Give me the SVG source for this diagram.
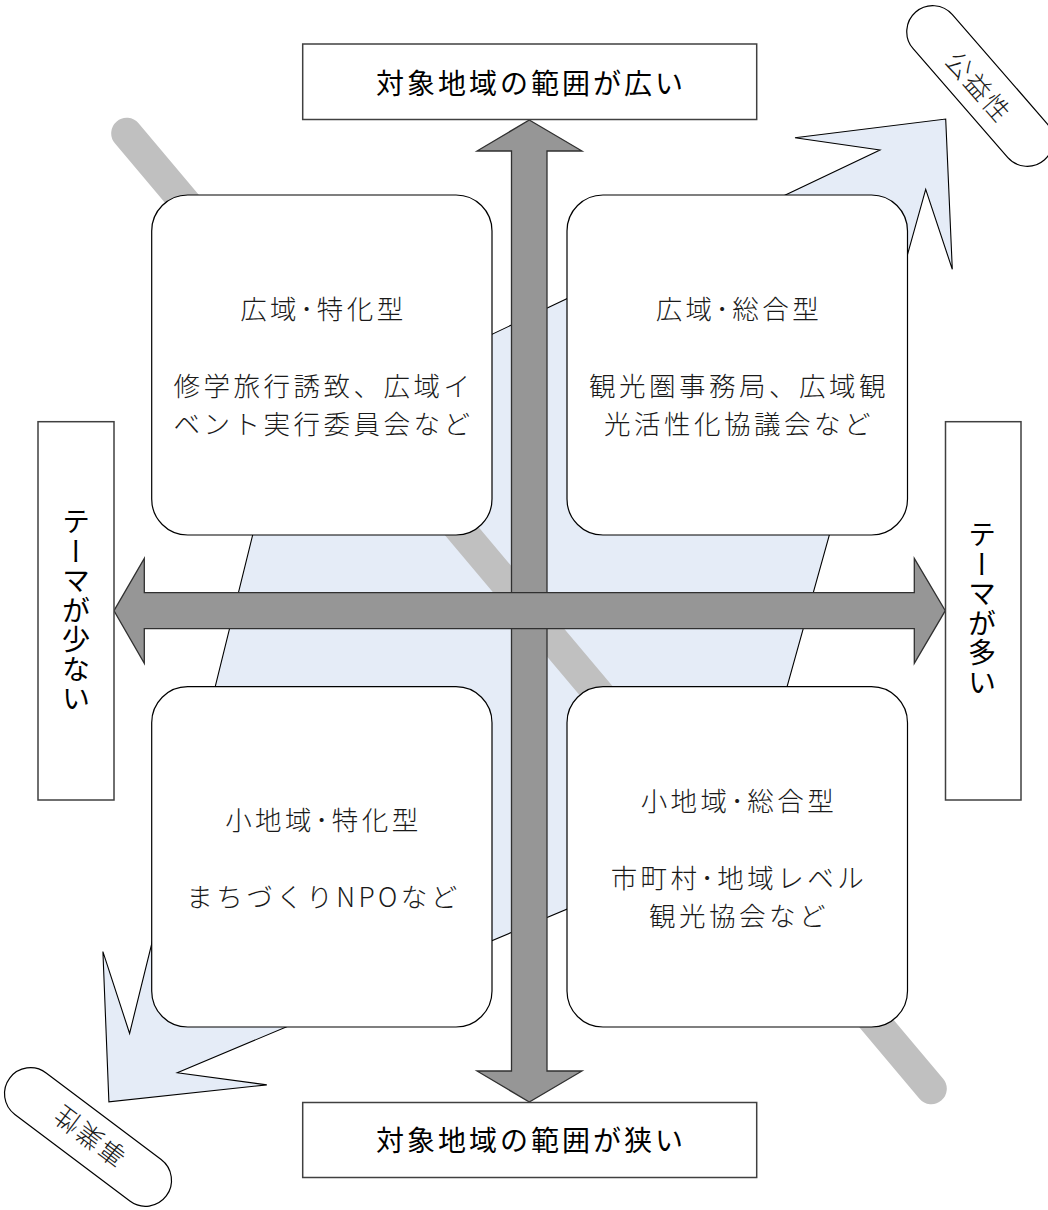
<svg xmlns="http://www.w3.org/2000/svg" width="1048" height="1210" viewBox="0 0 1048 1210">
<style>
.bg{fill:#ffffff}
.quad{fill:#ffffff;stroke:#000000;stroke-width:1.2}
.lbl{fill:#ffffff;stroke:#404040;stroke-width:1.5}
.pill{fill:#ffffff;stroke:#000000;stroke-width:1.2}
.arrow{fill:#969696;stroke:#303030;stroke-width:1.3;stroke-linejoin:miter}
.blue{fill:#E5ECF7;stroke:#000000;stroke-width:1.1;stroke-linejoin:miter}
.band{fill:none;stroke:#C0C0C0;stroke-width:31;stroke-linecap:round}
.qt{font-family:"Noto Sans CJK JP","Noto Sans CJK SC",sans-serif;font-size:26.5px;font-weight:300;fill:#1a1a1a;text-anchor:middle;dominant-baseline:central;letter-spacing:3.5px}
.lt{font-family:"Noto Sans CJK JP","Noto Sans CJK SC",sans-serif;font-size:28px;fill:#000000;text-anchor:middle;dominant-baseline:central;letter-spacing:3px}
.vt{font-family:"Noto Sans CJK JP","Noto Sans CJK SC",sans-serif;font-size:28px;fill:#000000;text-anchor:middle;writing-mode:vertical-rl;letter-spacing:1.5px}
.pt{font-family:"Noto Sans CJK JP","Noto Sans CJK SC",sans-serif;font-size:26px;font-weight:300;fill:#1a1a1a;text-anchor:middle;dominant-baseline:central;letter-spacing:2px}
</style>
<rect class="bg" x="0" y="0" width="1048" height="1210"/>

<g id="connectors">
  <polygon id="blue-arrow" class="blue" points="945.7,119 952.3,269.3 925.7,189.3 746,834 177.3,1072.7 266.8,1084.9 108.9,1101.8 102.9,951.6 129.6,1033.4 277,436.4 880,150 795,137.7"/>
  <line id="gray-band" class="band" x1="126.7" y1="133.3" x2="931.3" y2="1088.7"/>
</g>

<g id="q-tl">
  <rect class="quad" x="151.7" y="195" width="340.3" height="340" rx="36" ry="36"/>
  <text class="qt" x="323.5" y="307.3">広域･特化型</text>
  <text class="qt" x="323.5" y="384.3">修学旅行誘致、広域イ</text>
  <text class="qt" x="323.5" y="422.8">ベント実行委員会など</text>
</g>
<g id="q-tr">
  <rect class="quad" x="567" y="195" width="340.5" height="340" rx="36" ry="36"/>
  <text class="qt" x="739" y="307.3">広域･総合型</text>
  <text class="qt" x="739" y="384.3">観光圏事務局、広域観</text>
  <text class="qt" x="739" y="422.8">光活性化協議会など</text>
</g>
<g id="q-bl">
  <rect class="quad" x="151.7" y="686.7" width="340.3" height="340.3" rx="36" ry="36"/>
  <text class="qt" x="323.5" y="818.4">小地域･特化型</text>
  <text class="qt" x="323.5" y="895.4">まちづくりNPOなど</text>
</g>
<g id="q-br">
  <rect class="quad" x="567" y="686.7" width="340.5" height="340.3" rx="36" ry="36"/>
  <text class="qt" x="739" y="799">小地域･総合型</text>
  <text class="qt" x="739" y="876">市町村･地域レベル</text>
  <text class="qt" x="739" y="914.5">観光協会など</text>
</g>

<g id="axes">
  <polygon id="v-arrow" class="arrow" points="529.3,120 582,151 547,151 547,1071 582,1071 529.3,1102 477,1071 511.5,1071 511.5,151 477,151"/>
  <polygon id="h-arrow" class="arrow" points="114,610.7 144.3,558.3 144.3,592.7 914.3,592.7 914.3,558.3 945.3,610.7 914.3,663.3 914.3,628.7 144.3,628.7 144.3,663.3"/>
</g>

<g id="label-top">
  <rect class="lbl" x="302.7" y="44" width="454" height="75.5"/>
  <text class="lt" x="531" y="81.5">対象地域の範囲が広い</text>
</g>
<g id="label-bottom">
  <rect class="lbl" x="302.7" y="1102.5" width="454" height="75"/>
  <text class="lt" x="531" y="1139">対象地域の範囲が狭い</text>
</g>
<g id="label-left">
  <rect class="lbl" x="38" y="421.7" width="76" height="378.3"/>
  <text class="vt" x="76" y="611">テーマが少ない</text>
</g>
<g id="label-right">
  <rect class="lbl" x="945.5" y="421.7" width="75.5" height="378.3"/>
  <text class="vt" x="982" y="609">テーマが多い</text>
</g>

<g id="pill-top" transform="translate(980,86) rotate(49)">
  <rect class="pill" x="-98" y="-26" width="196" height="52" rx="26" ry="26"/>
  <text class="pt" x="0" y="0">公益性</text>
</g>
<g id="pill-bottom" transform="translate(88,1137) rotate(217)">
  <rect class="pill" x="-98" y="-26" width="196" height="52" rx="26" ry="26"/>
  <text class="pt" x="0" y="0">事業性</text>
</g>
</svg>
